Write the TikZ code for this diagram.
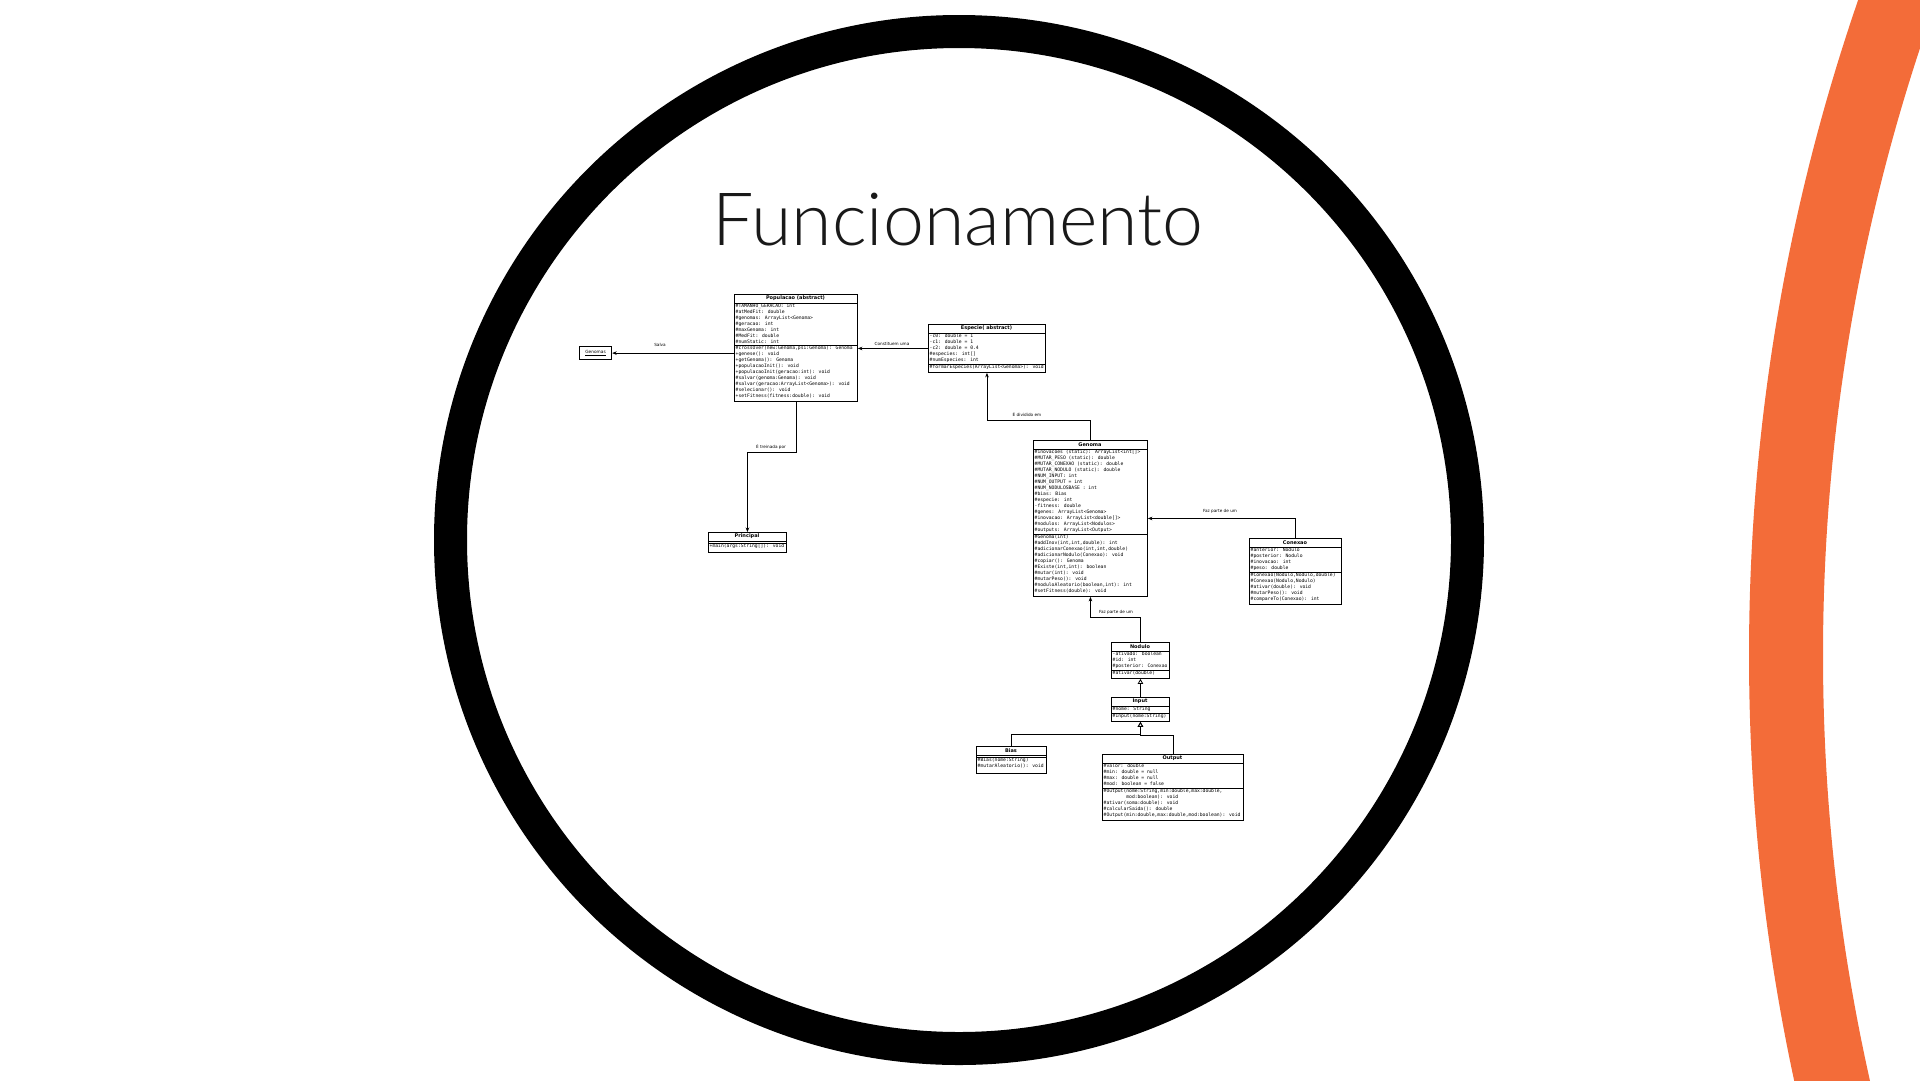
\documentclass[tikz,border=0pt]{standalone}
\usepackage{fontspec}
\setmainfont{Lato}
\IfFontExistsTF{Lato Light}{\newfontfamily\titlefont{Lato Light}}{\newfontfamily\titlefont{Lato}}
\newfontfamily\umlmono{DejaVu Sans Mono}
\newfontfamily\umlsans{DejaVu Sans}
\usetikzlibrary{arrows.meta}
\definecolor{orng}{RGB}{243,108,57}
\begin{document}
\begin{tikzpicture}[x=1pt,y=-1pt,
 cls/.style={draw=black, line width=0.9, anchor=north west, inner sep=0pt, fill=white},
 ttl/.style={font=\umlsans\bfseries\fontsize{5}{6}\selectfont, inner sep=0pt},
 txt/.style={font=\umlmono\fontsize{4.7}{6}\selectfont, align=left, anchor=north west, inner sep=0pt},
 sep/.style={line width=0.9},
 lbl/.style={font=\umlsans\fontsize{4.2}{5}\selectfont, inner sep=0pt},
 arr/.style={line width=0.8, -{Stealth[length=4.5pt,width=3.6pt]}},
 inh/.style={line width=0.8, -{Triangle[open,length=5pt,width=5.5pt]}}]
\useasboundingbox (0,0) rectangle (1920,1080);
\fill[white] (0,0) rectangle (1920,1080);
\clip (0,0) rectangle (1920,1080);
% orange arc
\draw[orng, line width=74] (3759,655) circle (1973);
% black ring
\draw[black, line width=33] (959,540) circle (508.5);
% title
\node[font=\titlefont\fontsize{73.5}{80}\selectfont, text=black!90, anchor=base, inner sep=0pt] (title) at (958,245) {Funcionamento};

% Genomas object
\node[draw, line width=1.2, anchor=north west, minimum width=32, minimum height=13, inner sep=0pt, font=\umlsans\fontsize{4.3}{5}\selectfont] (gens) at (579,346) {\underline{Genomas}};

% Populacao
\node[cls, minimum width=123, minimum height=107] (pop) at (734,294) {};
\node[ttl] (pop-t) at (795.5,298.5) {Populacao (abstract)};
\draw[sep] (734,303) -- (857,303);
\draw[sep] (734,345) -- (857,345);
\node[txt] (pop-a) at (735.5,303.6) {\#TAMANHO\_GERACAO: int\\\#atMedFit: double\\\#genomas: ArrayList<Genoma>\\\#geracao: int\\\#maxGenoma: int\\\#MedFit: double\\\#numStatic: int};
\node[txt] (pop-m) at (735.5,345.6) {\#crossOver(new:Genoma,psi:Genoma): Genoma\\+genese(): void\\+getGenoma(): Genoma\\+populacaoInit(): void\\+populacaoInit(geracao:int): void\\\#salvar(genoma:Genoma): void\\\#salvar(geracao:ArrayList<Genoma>): void\\\#selecionar(): void\\+setFitness(fitness:double): void};

% Especie
\node[cls, minimum width=117, minimum height=48] (esp) at (928,324) {};
\node[ttl] (esp-t) at (986.5,328.5) {Especie( abstract)};
\draw[sep] (928,333) -- (1045,333);
\draw[sep] (928,364) -- (1045,364);
\node[txt] (esp-a) at (929.5,333.6) {-c0: double = 1\\-c1: double = 1\\-c2: double = 0.4\\\#especies: int[]\\\#numEspecies: int};
\node[txt] (esp-m) at (929.5,364.8) {\#formarEspecies(ArrayList<Genoma>): void};

% Genoma
\node[cls, minimum width=114, minimum height=156] (gnm) at (1033,440) {};
\node[ttl] (gnm-t) at (1090,444.5) {Genoma};
\draw[sep] (1033,449) -- (1147,449);
\draw[sep] (1033,534) -- (1147,534);
\node[txt] (gnm-a) at (1034.5,449.6) {\#inovacoes (static): ArrayList<int[]>\\\#MUTAR\_PESO (static): double\\\#MUTAR\_CONEXAO (static): double\\\#MUTAR\_NODULO (static): double\\\#NUM\_INPUT: int\\\#NUM\_OUTPUT = int\\\#NUM\_NODULOSBASE : int\\\#bias: Bias\\\#especie: int\\-fitness: double\\\#genes: ArrayList<Genoma>\\\#inovacao: ArrayList<double[]>\\\#nodulos: ArrayList<Nodulos>\\\#outputs: ArrayList<Output>};
\node[txt] (gnm-m) at (1034.5,534.6) {\#Genoma(int)\\\#addInov(int,int,double): int\\\#adicionarConexao(int,int,double)\\\#adicionarNodulo(Conexao): void\\\#copiar(): Genoma\\\#Existe(int,int): boolean\\\#mutar(int): void\\\#mutarPeso(): void\\\#noduloAleatorio(boolean,int): int\\\#setFitness(double): void};

% Conexao
\node[cls, minimum width=92, minimum height=66] (con) at (1249,538) {};
\node[ttl] (con-t) at (1295,542.5) {Conexao};
\draw[sep] (1249,547) -- (1341,547);
\draw[sep] (1249,572) -- (1341,572);
\node[txt] (con-a) at (1250.5,547.6) {\#anterior: Nodulo\\\#posterior: Nodulo\\\#inovacao: int\\\#peso: double};
\node[txt] (con-m) at (1250.5,572.6) {\#Conexao(Nodulo,Nodulo,double)\\\#Conexao(Nodulo,Nodulo)\\\#ativar(double): void\\\#mutarPeso(): void\\\#compareTo(Conexao): int};

% Principal
\node[cls, minimum width=78, minimum height=20] (pri) at (708,532) {};
\node[ttl] (pri-t) at (747,536.5) {Principal};
\draw[sep] (708,541) -- (786,541);
\draw[sep] (708,543) -- (786,543);
\node[txt] (pri-m) at (709.5,543.8) {+main(args:String[]): void};

% Nodulo
\node[cls, minimum width=58, minimum height=36] (nod) at (1111,642) {};
\node[ttl] (nod-t) at (1140,646.5) {Nodulo};
\draw[sep] (1111,651) -- (1169,651);
\draw[sep] (1111,670) -- (1169,670);
\node[txt] (nod-a) at (1112.5,651.6) {-ativado: boolean\\\#id: int\\\#posterior: Conexao};
\node[txt] (nod-m) at (1112.5,670.6) {\#ativar(double)};

% Input
\node[cls, minimum width=58, minimum height=24] (inp) at (1111,697) {};
\node[ttl] (inp-t) at (1140,701.5) {Input};
\draw[sep] (1111,706) -- (1169,706);
\draw[sep] (1111,713) -- (1169,713);
\node[txt] (inp-a) at (1112.5,706.6) {\#nome: String};
\node[txt] (inp-m) at (1112.5,713.6) {\#Input(nome:String)};

% Bias
\node[cls, minimum width=70, minimum height=27] (bias) at (976,746) {};
\node[ttl] (bias-t) at (1011,750.5) {Bias};
\draw[sep] (976,755) -- (1046,755);
\draw[sep] (976,757) -- (1046,757);
\node[txt] (bias-m) at (977.5,757.8) {\#Bias(nome:String)\\\#mutarAleatorio(): void};

% Output
\node[cls, minimum width=141, minimum height=66] (out) at (1102,754) {};
\node[ttl] (out-t) at (1172.5,758.5) {Output};
\draw[sep] (1102,763) -- (1243,763);
\draw[sep] (1102,788) -- (1243,788);
\node[txt] (out-a) at (1103.5,763.6) {\#valor: double\\\#min: double = null\\\#max: double = null\\\#mod: boolean = false};
\node[txt] (out-m) at (1103.5,788.6) {\#Output(nome:String,min:double,max:double,\\\phantom{\#Output(}mod:boolean): void\\\#ativar(soma:double): void\\\#calcularSaida(): double\\\#Output(min:double,max:double,mod:boolean): void};

% connectors
\draw[arr] (pop.west |- gens.east) -- (gens.east);
\node[lbl] (l1) at (660,345) {Salva};
\draw[arr] (esp.west) -- (esp.west -| pop.east);
\node[lbl] (l2) at (892,343.5) {Constituem uma};
\draw[arr] (gnm.north) -- ++(0,-20) -| (esp.south);
\node[lbl] (l3) at (1027,415) {É dividido em};
\draw[arr] (pop.south) -- ++(0,50) -| (pri.north);
\node[lbl] (l4) at (771,447) {É treinada por};
\draw[arr] (con.north) |- (gnm.east);
\node[lbl] (l5) at (1220,511) {Faz parte de um};
\draw[arr] (nod.north) -- ++(0,-25) -| (gnm.south);
\node[lbl] (l6) at (1116,612) {Faz parte de um};
\draw[inh] (inp.north) -- (nod.south);
\draw[inh] (bias.north) -- ++(0,-12) -| (inp.south);
\draw[inh] (out.north) -- ++(0,-19) -| (inp.south);
\end{tikzpicture}
\end{document}
